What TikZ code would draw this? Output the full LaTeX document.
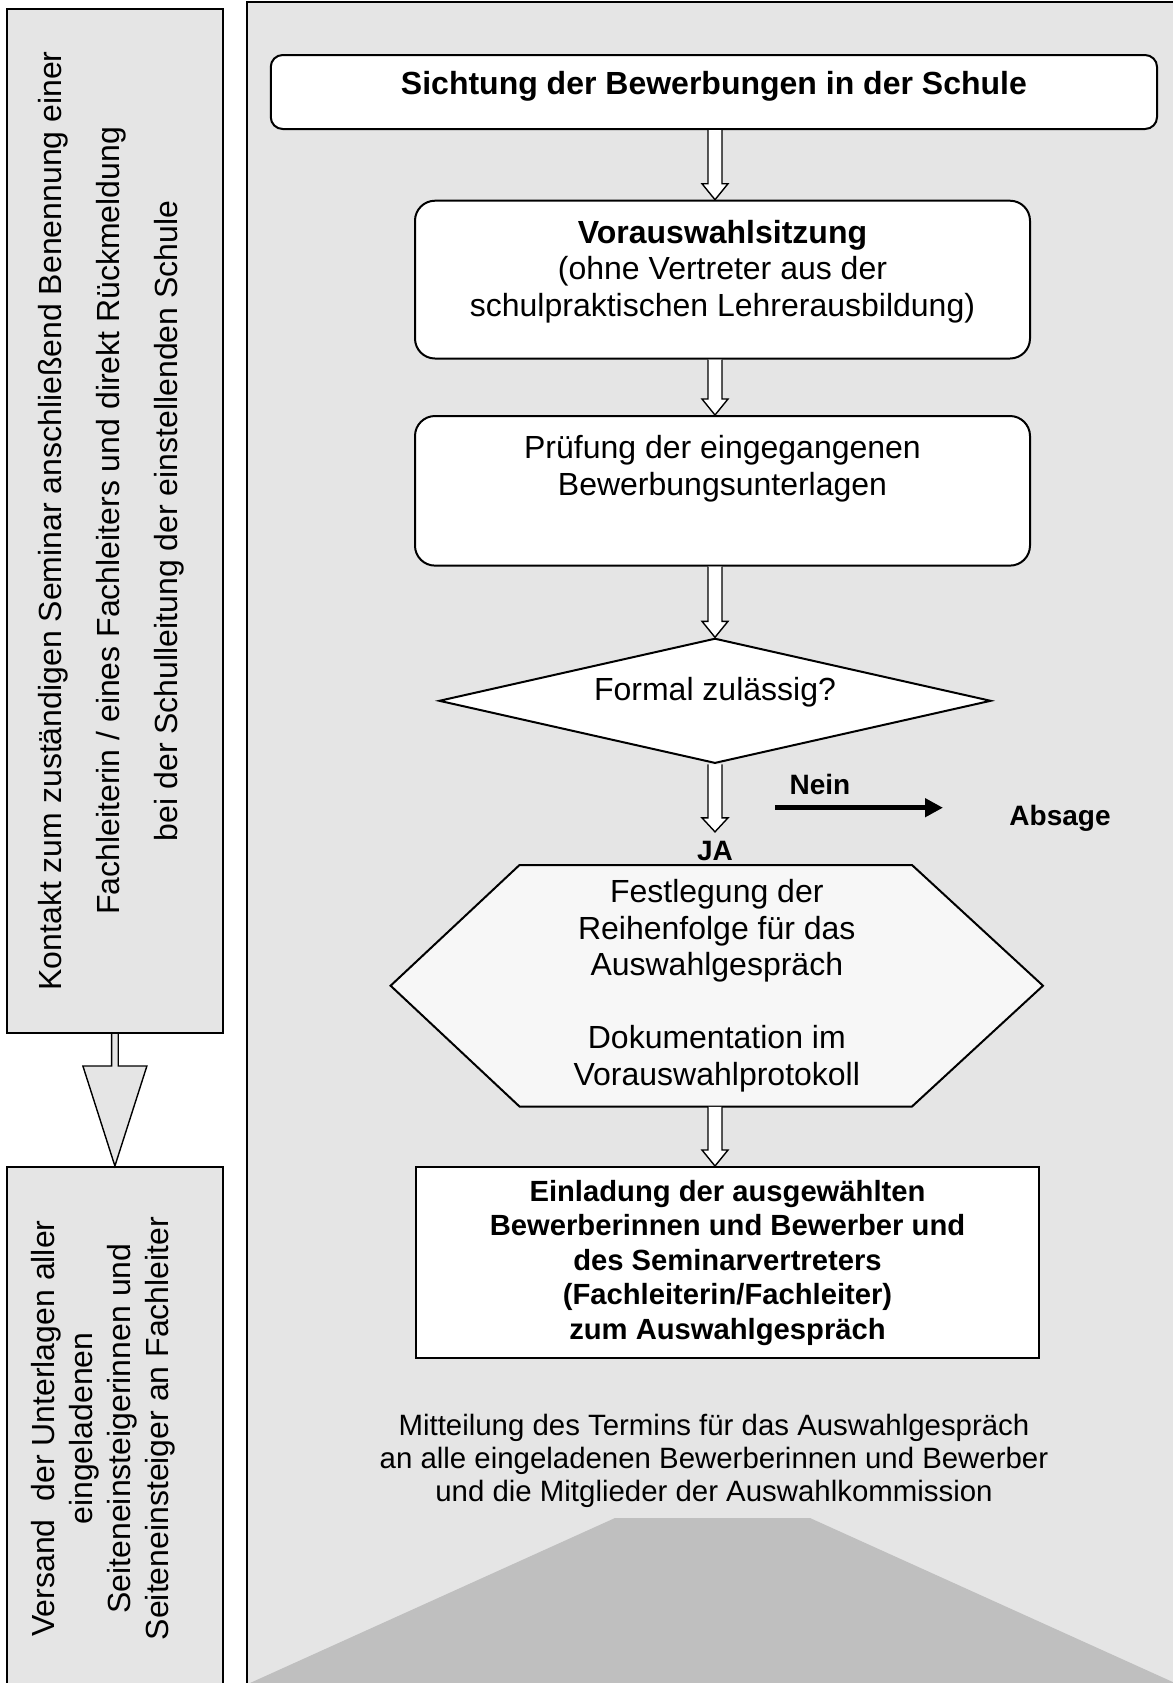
\documentclass[tikz,border=0pt]{standalone}
\usepackage{fontspec}
\setmainfont{Liberation Sans}
\usetikzlibrary{calc,shapes.geometric,arrows.meta}
\newcommand{\blockarrow}[6]{%
	\draw[hollow,fill=#1] ($(#2)+(-#4,0)$) -- ($(#3)+(-#4,-#6)$) -- ($(#3)+(-#5,-#6)$) -- (#3)
		-- ($(#3)+(#5,-#6)$) -- ($(#3)+(#4,-#6)$) -- ($(#2)+(#4,0)$);}
\begin{document}
\begin{tikzpicture}[x=0.5pt,y=-0.5pt,
		panel/.style={draw,line width=1pt,fill=black!10},
		sidebox/.style={panel,rotate=90,align=center,inner sep=0pt,minimum height=108.15pt},
		stepbox/.style={draw,line width=1pt,fill=white,align=center,inner sep=0pt,
			font=\fontsize{16}{18.3}\selectfont},
		hollow/.style={line width=0.7pt},
		lbl/.style={inner sep=0pt,font=\bfseries\fontsize{14}{16}\selectfont}]
	\useasboundingbox (0,0) rectangle (1173,1683);
	\coordinate (col) at (715,0);
	\draw[panel] (247,1.5) rectangle (1190,1700);
	\fill[black!25] (615,1518) -- (810,1518) -- (1175,1683) -- (250,1683) -- cycle;
	\node[sidebox,minimum width=512.2pt,text depth=7.4pt,font=\fontsize{16}{29}\selectfont]
		(kontakt) at (114.9,520.8) {Kontakt zum zuständigen Seminar anschließend Benennung einer\\
		Fachleiterin / eines Fachleiters und direkt Rückmeldung\\
		bei der Schulleitung der einstellenden Schule};
	\node[sidebox,minimum width=261.5pt,text depth=14.9pt,font=\fontsize{16}{18.9}\selectfont]
		(versand) at (114.9,1428.5) {Versand\ \ der Unterlagen aller\\eingeladenen\\
		Seiteneinsteigerinnen und\\Seiteneinsteiger an Fachleiter};
	\blockarrow{black!10}{kontakt.west}{versand.east}{3.3}{32}{100}
	\node[stepbox,rounded corners=6pt,minimum width=443.15pt,minimum height=37pt,text depth=9.4pt,
		font=\bfseries\fontsize{16}{18.3}\selectfont] (sicht) at (713.9,92) {Sichtung der Bewerbungen in der Schule};
	\node[stepbox,rounded corners=10pt,minimum width=307.5pt,minimum height=78.9pt,text depth=11.4pt]
		(vor) at (722.5,279.6) {\textbf{Vorauswahlsitzung}\\(ohne Vertreter aus der\\schulpraktischen Lehrerausbildung)};
	\node[stepbox,rounded corners=10pt,minimum width=307.5pt,minimum height=74.8pt,text depth=25.4pt]
		(pruef) at (722.5,490.8) {Prüfung der eingegangenen\\Bewerbungsunterlagen};
	\node[stepbox,diamond,aspect=4.4,minimum width=276pt,minimum height=62.5pt,text depth=12.4pt]
		(formal) at (715,700.8) {Formal zulässig?};
	\node[lbl,inner ysep=4.5pt] (ja) at (715,851) {JA};
	\node[lbl] (nein) at (820,784) {Nein};
	\node[lbl] (absage) at (1060,818) {Absage};
	\coordinate (nein0) at (775,807.7);
	\coordinate (nein1) at (943,807.7);
	\draw[line width=2.5pt,-{Triangle[length=9pt,width=9pt]}] (nein0) -- (nein1);
	\draw[line width=1pt,fill=black!3] (390.6,985.7) -- (519.5,865) -- (912,865) -- (1043,985.7)
		-- (912,1106.5) -- (519.5,1106.5) -- cycle;
	\node[align=center,inner sep=0pt,minimum height=120.75pt,font=\fontsize{16}{18.3}\selectfont]
		(fest) at (716.8,985.7) {Festlegung der\\Reihenfolge für das\\Auswahlgespräch\\[18.3pt]
		Dokumentation im\\Vorauswahlprotokoll};
	\node[stepbox,minimum width=311.5pt,minimum height=95.5pt,font=\bfseries\fontsize{14.6}{17.25}\selectfont]
		(einl) at (727.5,1262.5) {Einladung der ausgewählten\\Bewerberinnen und Bewerber und\\
		des Seminarvertreters\\(Fachleiterin/Fachleiter)\\zum Auswahlgespräch};
	\node[align=center,inner sep=0pt,font=\fontsize{14.7}{16.4}\selectfont] (mitt) at (714,1460.6)
		{Mitteilung des Termins für das Auswahlgespräch\\an alle eingeladenen Bewerberinnen und Bewerber\\
		und die Mitglieder der Auswahlkommission};
	\blockarrow{white}{sicht.south -| col}{vor.north -| col}{7}{13}{16}
	\blockarrow{white}{vor.south -| col}{pruef.north -| col}{7}{13}{16}
	\blockarrow{white}{pruef.south -| col}{formal.north}{7}{13}{16}
	\blockarrow{white}{formal.south}{ja.north}{7}{13}{14}
	\blockarrow{white}{fest.south -| col}{einl.north -| col}{7}{13}{16}
\end{tikzpicture}
\end{document}
